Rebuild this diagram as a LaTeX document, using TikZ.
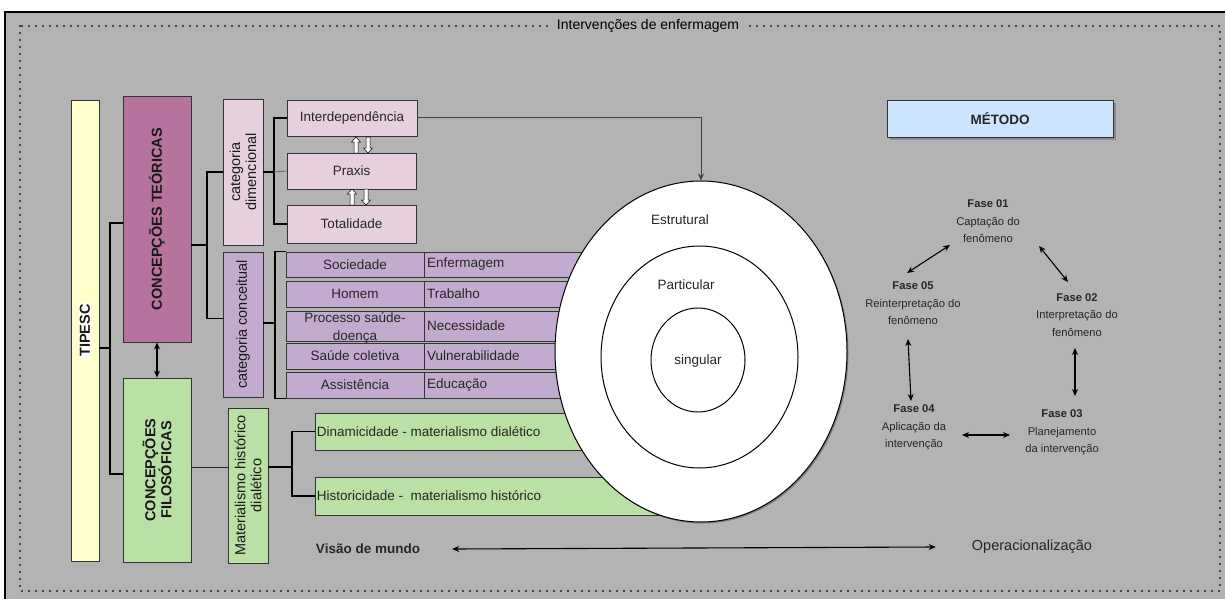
\documentclass[tikz,border=0pt]{standalone}
\usepackage{fontspec}
\setmainfont{Liberation Sans}
\usetikzlibrary{shapes.geometric,arrows.meta,calc}
\definecolor{bg}{HTML}{B3B3B3}
\definecolor{cyellow}{HTML}{FFFFCC}
\definecolor{cmauve}{HTML}{B5739D}
\definecolor{cgreen}{HTML}{B9E0A5}
\definecolor{cpink}{HTML}{E6D0DE}
\definecolor{cpurple}{HTML}{C3ABD0}
\definecolor{cblue}{HTML}{CCE5FF}
\definecolor{ctext}{HTML}{262626}
\begin{document}
\begin{tikzpicture}[x=1pt,y=-1pt,
  box/.style={draw=black!80, line width=0.8pt, inner sep=0pt, text=ctext, font=\fontsize{13.5}{16}\selectfont},
  rot/.style={rotate=90, align=center, inner sep=0pt, text=black!90, font=\fontsize{14.5}{16}\selectfont},
  rotb/.style={rot, font=\fontsize{14.5}{16}\selectfont\bfseries},
  txt/.style={inner sep=0pt, text=ctext, font=\fontsize{13.5}{16}\selectfont},
  ph/.style={inner sep=0pt, align=center, text=ctext, font=\fontsize{11.2}{17.5}\selectfont},
  tree/.style={line width=1.6pt, black},
  ln/.style={line width=0.9pt, black!85},
  dbl/.style={line width=1.1pt, {Stealth[length=7pt,width=6pt]}-{Stealth[length=7pt,width=6pt]}},
  frame/.style={line width=2.3pt, black!85, line cap=round, dash pattern=on 0pt off 7pt},
  hup/.pic={\draw[fill=white, line width=0.5pt] (0,-8) -- (4.5,-3) -- (2,-3) -- (2,8) -- (-2,8) -- (-2,-3) -- (-4.5,-3) -- cycle;},
  hdown/.pic={\draw[fill=white, line width=0.5pt] (0,8) -- (4.5,3) -- (2,3) -- (2,-8) -- (-2,-8) -- (-2,3) -- (-4.5,3) -- cycle;}
]
\useasboundingbox (0,0) rectangle (1225,599);
\fill[white] (0,0) rectangle (1225,599);
\fill[bg] (5,12) rectangle (1225,599);
\draw[line width=1.2pt] (5,599) -- (5,12) -- (1225,12);
\draw[frame] (20,26) rectangle (1220,591);
\node[fill=bg, inner xsep=5pt, inner ysep=2pt, text=black, font=\fontsize{14}{16}\selectfont] (title) at (648,26) {Intervenções de enfermagem};

% left column boxes
\node[box, fill=cyellow, minimum width=28pt, minimum height=461pt] (tipesc) at (85,330.5) {};
\node[rotb, fill=white, inner sep=1pt] at (tipesc.center) {TIPESC};
\node[box, fill=cmauve, minimum width=68pt, minimum height=246pt] (ct) at (157,219) {};
\node[rotb] at (ct.center) {CONCEPÇÕES TEÓRICAS};
\node[box, fill=cgreen, minimum width=68pt, minimum height=184pt] (cf) at (157,470) {};
\node[rotb] at (cf.center) {CONCEPÇÕES\\FILOSÓFICAS};

\node[box, fill=cpink, minimum width=40pt, minimum height=146pt] (cd) at (243,172) {};
\node[rot] at (cd.center) {categoria\\dimencional};
\node[box, fill=cpurple, minimum width=40pt, minimum height=145pt] (cc) at (243,324.5) {};
\node[rot] at (cc.center) {categoria conceitual};
\node[box, fill=cgreen, minimum width=40pt, minimum height=155pt] (mhd) at (248,485.5) {};
\node[rot] at (mhd.center) {Materialismo histórico\\dialético};

% dimension boxes
\node[box, fill=cpink, minimum width=130pt, minimum height=36pt] (interd) at (352,118) {Interdependência};
\node[box, fill=cpink, minimum width=129pt, minimum height=36pt] (praxis) at (351.5,171) {Praxis};
\node[box, fill=cpink, minimum width=129pt, minimum height=38pt] (total) at (351.5,224) {Totalidade};
\pic at (356,145) {hup};
\pic at (368,145) {hdown};
\pic at (352,197) {hup};
\pic at (366,197) {hdown};

% conceptual rows
\node[box, fill=cpurple, minimum width=138pt, minimum height=25pt] (r1l) at (355,264.5) {Sociedade};
\node[box, fill=cpurple, minimum width=216pt, minimum height=25pt, text width=210pt, align=left] (r1r) at (532,264.5) {Enfermagem};
\node[box, fill=cpurple, minimum width=138pt, minimum height=26pt] (r2l) at (355,294) {Homem};
\node[box, fill=cpurple, minimum width=216pt, minimum height=26pt, text width=210pt, align=left] (r2r) at (532,294) {Trabalho};
\node[box, fill=cpurple, minimum width=138pt, minimum height=30pt] (r3l) at (355,326) {};
\node[txt, align=center, font=\fontsize{13.5}{18}\selectfont] at (355,328) {Processo saúde-\\doença};
\node[box, fill=cpurple, minimum width=216pt, minimum height=30pt, text width=210pt, align=left] (r3r) at (532,326) {Necessidade};
\node[box, fill=cpurple, minimum width=138pt, minimum height=26pt] (r4l) at (355,356) {Saúde coletiva};
\node[box, fill=cpurple, minimum width=216pt, minimum height=26pt, text width=210pt, align=left] (r4r) at (532,356) {Vulnerabilidade};
\node[box, fill=cpurple, minimum width=138pt, minimum height=26pt] (r5l) at (355,385) {Assistência};
\node[box, fill=cpurple, minimum width=216pt, minimum height=26pt, text width=210pt, align=left] (r5r) at (532,385) {Educação};

% green boxes
\node[box, fill=cgreen, minimum width=385pt, minimum height=37pt] (dinam) at (507.5,431.5) {};
\node[txt, anchor=west] at ($(dinam.west)+(2,0)$) {Dinamicidade - materialismo dialético};
\node[box, fill=cgreen, minimum width=385pt, minimum height=38pt] (hist) at (507.5,496) {};
\node[txt, anchor=west] at ($(hist.west)+(2,0)$) {Historicidade -\ \ materialismo histórico};

% circles
\fill[black, opacity=0.3] (702.5,353) ellipse [x radius=146, y radius=170.5];
\node[ellipse, draw, fill=white, line width=1pt, minimum width=292pt, minimum height=341pt, inner sep=0pt] (outer) at (701,351.5) {};
\node[ellipse, draw, fill=white, line width=1pt, minimum width=197pt, minimum height=222pt, inner sep=0pt] (middle) at (699.5,357) {};
\node[ellipse, draw, fill=white, line width=1pt, minimum width=94pt, minimum height=104pt, inner sep=0pt] (inner) at (698,360) {};
\node[txt] (estr) at (680,220) {Estrutural};
\node[txt] (part) at (686,285) {Particular};
\node[txt] (sing) at (698,361) {singular};

% tree connectors
\coordinate (tj) at (110,348);
\draw[tree] (tipesc.east |- tj) -- (tj);
\draw[tree] ($(ct.west)+(0,4)$) -| (tj) |- ($(cf.west)+(0,4)$);
\draw[dbl] (ct.south) -- (cf.north);

\coordinate (cj) at (207,245);
\draw[tree] ($(ct.east)+(0,26)$) -- (cj);
\draw[tree] (cd.west) -| (cj) |- ($(cc.west)+(0,-6)$);

\coordinate (dj) at (274,172);
\draw[tree] (cd.east) -- (dj);
\draw[tree] (interd.west) -| (dj) |- (total.west);
\draw[line width=0.8pt, black!60] (dj) -- (praxis.west);

\coordinate (kj) at (275,323);
\draw[tree] (cc.east |- kj) -- (kj);
\draw[tree] (r1l.north west) -| (kj) |- (r5l.south west);

\coordinate (mj) at (292,467);
\draw[ln] (cf.east |- mj) -- (mhd.west |- mj);
\draw[tree] (mhd.east |- mj) -- (mj);
\draw[tree] (dinam.west) -| (mj) |- (hist.west);

\draw[line width=1pt, black!75, -{Stealth[length=7pt,width=6pt]}] (interd.east) -| (outer.north);

% method
\fill[black!45] (890,103) rectangle (1116,140);
\node[box, fill=cblue, minimum width=226pt, minimum height=37pt, font=\fontsize{13.5}{16}\selectfont\bfseries] (metodo) at (1000,118.5) {MÉTODO};

\node[ph] (f1) at (988,221.5) {\textbf{Fase 01}\\Captação do\\fenômeno};
\node[ph] (f5) at (913,303.5) {\textbf{Fase 05}\\Reinterpretação do\\fenômeno};
\node[ph] (f2) at (1077,315) {\textbf{Fase 02}\\Interpretação do\\fenômeno};
\node[ph] (f4) at (914,427.5) {\textbf{Fase 04}\\Aplicação da\\intervenção};
\node[ph] (f3) at (1062,432.5) {\textbf{Fase 03}\\Planejamento\\da intervenção};

\coordinate (a51) at (907,273); \coordinate (a15) at (950,245);
\coordinate (a12) at (1039,246); \coordinate (a21) at (1068,282);
\coordinate (a23) at (1075,348); \coordinate (a32) at (1075,396);
\coordinate (a54) at (908,339); \coordinate (a45) at (911,401);
\coordinate (a43) at (962,435); \coordinate (a34) at (1010,435);
\draw[dbl] (a51) -- (a15);
\draw[dbl] (a12) -- (a21);
\draw[dbl] (a23) -- (a32);
\draw[dbl] (a54) -- (a45);
\draw[dbl] (a43) -- (a34);

% bottom
\node[txt, font=\fontsize{13.5}{16}\selectfont\bfseries] (visao) at (368,549) {Visão de mundo};
\node[txt, font=\fontsize{14.5}{16}\selectfont] (oper) at (1032,547) {Operacionalização};
\draw[dbl] ([xshift=32pt]visao.east) -- ([xshift=-36pt]oper.west);
\end{tikzpicture}
\end{document}
